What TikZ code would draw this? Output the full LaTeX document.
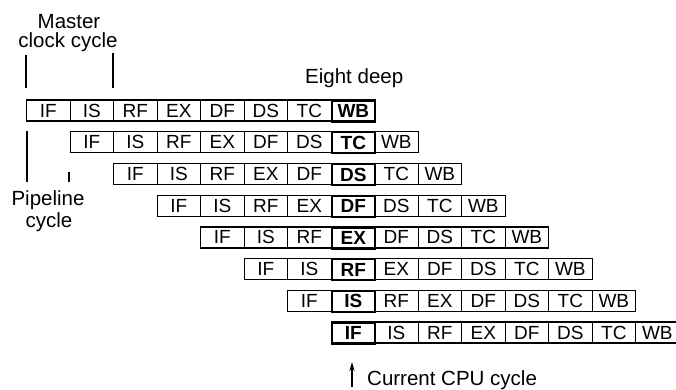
\documentclass[tikz,border=0pt]{standalone}
\usepackage{fontspec}
\setmainfont{Liberation Sans}
\usepackage{tikz}
\usetikzlibrary{arrows.meta}
\begin{document}
\begin{tikzpicture}[x=1pt,y=-1pt,
   every node/.style={inner sep=0pt,font=\fontsize{20.5}{24}\selectfont},
   stage/.style={draw,line width=1.2pt,minimum width=43.5pt,minimum height=21pt,
      anchor=north west,font=\fontsize{19}{22}\selectfont},
   current/.style={stage,line width=2.2pt,font=\fontsize{19}{22}\selectfont\bfseries},
   tick/.style={line width=1.2pt}]
\useasboundingbox (0,0) rectangle (676,390);
% the eight overlapped instructions
\foreach \r in {1,...,8}{
  \foreach \s [count=\c] in {IF,IS,RF,EX,DF,DS,TC,WB}{
    \pgfmathtruncatemacro{\k}{9-\r}
    \ifnum\c=\k \def\sty{current}\else \def\sty{stage}\fi
    \node[\sty] (r\r c\c) at ({26+43.5*(\r-1)+43.5*(\c-1)},{99.5+31.7*(\r-1)}) {\s};
  }
}
% labels
\node[anchor=base] (master) at (69,28.5) {Master};
\node[anchor=base] (clock) at (68,48) {clock cycle};
\node[anchor=base west] (deep) at (305,84) {Eight deep};
\node[anchor=base] (pipe) at (48,205) {Pipeline};
\node[anchor=base] (pcycle) at (49,227) {cycle};
\node[anchor=base west] (cpu) at (367,385) {Current CPU cycle};
% ticks
\coordinate (m1) at (26,55);   \coordinate (m1e) at (26,88);
\coordinate (m2) at (113,53);  \coordinate (m2e) at (113,88);
\coordinate (p1) at (27,131);  \coordinate (p1e) at (27,182);
\coordinate (p2) at (69,172);  \coordinate (p2e) at (69,182);
\draw[tick] (m1) -- (m1e);
\draw[tick] (m2) -- (m2e);
\draw[tick] (p1) -- (p1e);
\draw[tick] (p2) -- (p2e);
% current cycle
\coordinate (arr) at (352,387);
\coordinate (arre) at (352,362);
\draw[tick,-{Stealth[length=9pt,width=5pt]}] (arr) -- (arre);
\end{tikzpicture}
\end{document}
